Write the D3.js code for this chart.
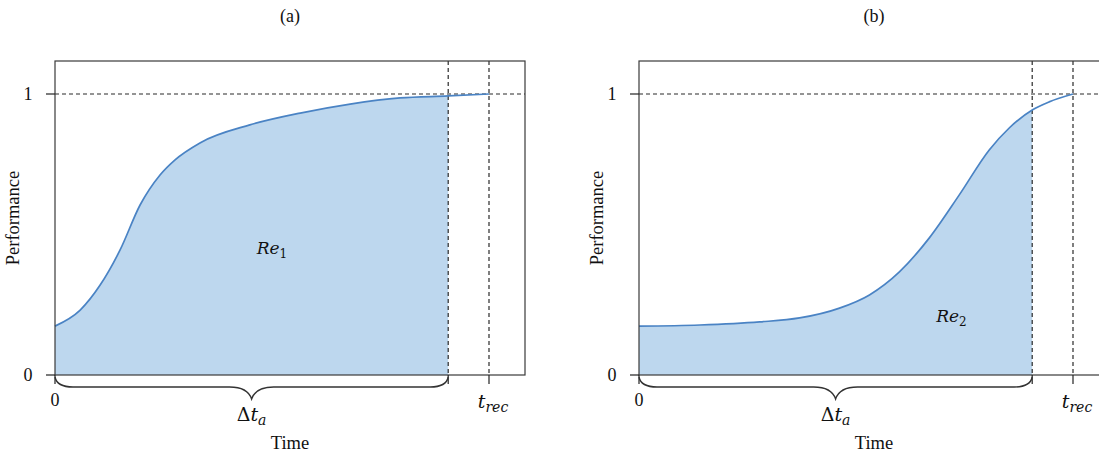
<!DOCTYPE html>
<html><head><meta charset="utf-8">
<script src="https://cdn.jsdelivr.net/npm/d3@7"></script>
<style>
body{margin:0;background:#fff;overflow:hidden}
text{font-family:"Liberation Serif","Times New Roman",serif;fill:#111}
.math{font-family:"DejaVu Serif","Liberation Serif",serif;font-style:italic}
</style></head><body>
<svg id="c" width="1099" height="457"></svg>
<script>
// Data
const panels = ["(a)", "(b)"];
const reLabels = ["Re", "Re"];
const reSubs = ["1", "2"];
const timeA = [0, 0.058, 0.104, 0.150, 0.196, 0.242, 0.276, 0.334, 0.449, 0.565, 0.680, 0.795, 0.906, 1];
const perfA = [0.174, 0.231, 0.320, 0.445, 0.605, 0.712, 0.765, 0.826, 0.890, 0.932, 0.964, 0.986, 0.993, 1];
const timeB = [0, 0.14, 0.278, 0.37, 0.462, 0.531, 0.6, 0.669, 0.738, 0.807, 0.853, 0.906, 0.945, 1];
const perfB = [0.174, 0.178, 0.189, 0.203, 0.238, 0.285, 0.367, 0.488, 0.641, 0.801, 0.879, 0.943, 0.972, 1];
const deltaT = 0.906;   // Δt_a
const tRec = 1;         // t_rec
const yTicks = [0, 1];

(function(){
const svg = d3.select("#c");
const lefts = [55, 639];
const boxTop = 61, bottom = 375, boxW = 470;
const series = [[timeA, perfA], [timeB, perfB]];
const reText = [[0.5, 0.43], [0.72, 0.19]];

panels.forEach((title, i) => {
  const L = lefts[i];
  const x = d3.scaleLinear().domain([0, 1]).range([L, L + 434]);
  const y = d3.scaleLinear().domain([0, 1]).range([bottom, 94]);
  const g = svg.append("g");
  const pts = series[i][0].map((t, k) => [t, series[i][1][k]]);

  const line = d3.line().x(d => x(d[0])).y(d => y(d[1])).curve(d3.curveMonotoneX);
  const tmp = g.append("path").attr("d", line(pts)).attr("fill", "none");
  const node = tmp.node(), len = node.getTotalLength();
  const samples = [];
  for (let s = 0; s <= len; s += 1) {
    const p = node.getPointAtLength(s);
    if (p.x <= x(deltaT)) samples.push([p.x, p.y]);
  }
  tmp.remove();
  const xb = x(deltaT);
  const yb = samples[samples.length - 1][1];
  samples.push([xb, yb]);
  const areaPath = "M" + x(0) + "," + bottom + "L" + samples.map(p => p.join(",")).join("L") + "L" + xb + "," + bottom + "Z";
  g.append("path").attr("d", areaPath).attr("fill", "#bdd7ee").attr("stroke", "none");

  g.append("line").attr("x1", L).attr("x2", L + boxW).attr("y1", y(1)).attr("y2", y(1))
    .attr("stroke", "#2a2a2a").attr("stroke-width", 1.2).attr("stroke-dasharray", "4,3");
  [deltaT, tRec].forEach(t => {
    g.append("line").attr("x1", x(t)).attr("x2", x(t)).attr("y1", boxTop).attr("y2", bottom)
      .attr("stroke", "#2a2a2a").attr("stroke-width", 1.2).attr("stroke-dasharray", "4,3");
  });

  g.append("path").attr("d", line(pts)).attr("fill", "none").attr("stroke", "#4a83c4").attr("stroke-width", 1.7);

  g.append("rect").attr("x", L).attr("y", boxTop).attr("width", boxW).attr("height", bottom - boxTop)
    .attr("fill", "none").attr("stroke", "#3a3a3a").attr("stroke-width", 1.2);

  yTicks.forEach(v => {
    g.append("line").attr("x1", L - 9).attr("x2", L).attr("y1", y(v)).attr("y2", y(v)).attr("stroke", "#222").attr("stroke-width", 1.2);
    g.append("text").attr("x", L - 27).attr("y", y(v) + 6).attr("text-anchor", "middle").attr("font-size", 18).text(v);
  });
  [0, deltaT, tRec].forEach(t => {
    g.append("line").attr("x1", x(t)).attr("x2", x(t)).attr("y1", bottom).attr("y2", bottom + 9).attr("stroke", "#222").attr("stroke-width", 1.2);
  });
  g.append("text").attr("x", x(0)).attr("y", 406).attr("text-anchor", "middle").attr("font-size", 18).text("0");

  const x0 = x(0), x1 = x(deltaT), xm = (x0 + x1) / 2, yb0 = bottom + 2, yl = 387, yt = 399, r = 18;
  const brace = `M${x0},${yb0} Q${x0 + 2},${yl} ${x0 + r},${yl} L${xm - 22},${yl} Q${xm - 4},${yl} ${xm},${yt} Q${xm + 4},${yl} ${xm + 22},${yl} L${x1 - r},${yl} Q${x1 - 2},${yl} ${x1},${yb0}`;
  g.append("path").attr("d", brace).attr("fill", "none").attr("stroke", "#333").attr("stroke-width", 1.4);

  const dt = g.append("text").attr("x", xm).attr("y", 421).attr("text-anchor", "middle").attr("font-size", 19);
  dt.append("tspan").attr("font-family", "DejaVu Serif").text("Δ");
  dt.append("tspan").attr("class", "math").text("t");
  dt.append("tspan").attr("class", "math").attr("font-size", 14).attr("dy", 4).text("a");

  const tr = g.append("text").attr("x", x(tRec) + 4).attr("y", 408).attr("text-anchor", "middle").attr("font-size", 19);
  tr.append("tspan").attr("class", "math").text("t");
  tr.append("tspan").attr("class", "math").attr("font-size", 14).attr("dy", 4).text("rec");

  const re = g.append("text").attr("x", x(reText[i][0])).attr("y", y(reText[i][1])).attr("text-anchor", "middle").attr("font-size", 17);
  re.append("tspan").attr("class", "math").text(reLabels[i]);
  re.append("tspan").attr("font-family", "DejaVu Serif").attr("font-size", 12).attr("dy", 4).text(reSubs[i]);

  g.append("text").attr("x", L + boxW / 2).attr("y", 449).attr("text-anchor", "middle").attr("font-size", 18.5).text("Time");
  g.append("text").attr("transform", `translate(${L - 36},218) rotate(-90)`).attr("text-anchor", "middle").attr("font-size", 18.5).text("Performance");
  g.append("text").attr("x", L + boxW / 2).attr("y", 22).attr("text-anchor", "middle").attr("font-size", 18).text(title);
});
})();
</script>
</body></html>
